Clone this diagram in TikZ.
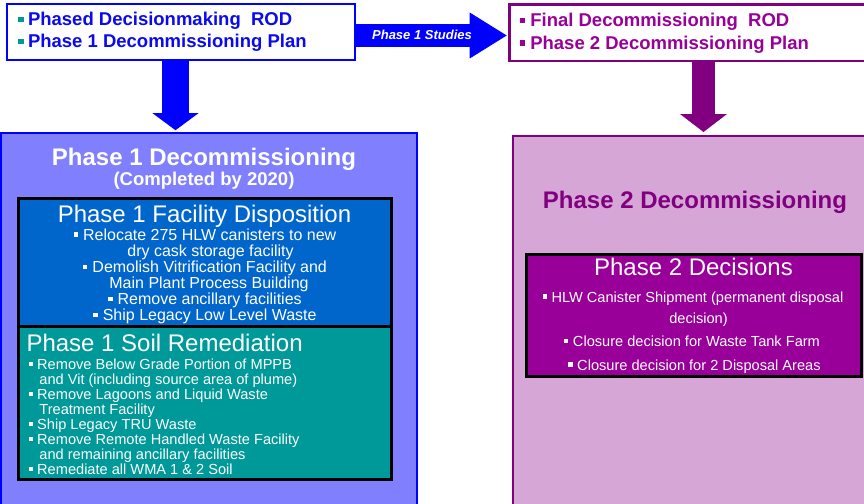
\documentclass[tikz,border=0pt]{standalone}
\usepackage{fontspec}
\setmainfont{Liberation Sans}
\usetikzlibrary{arrows.meta,fit}
\definecolor{pblue}{RGB}{0,0,255}
\definecolor{txtblue}{RGB}{10,10,240}
\definecolor{ppurple}{RGB}{128,0,128}
\definecolor{ptext}{RGB}{153,0,153}
\definecolor{tealb}{RGB}{0,153,153}
\definecolor{pafill}{RGB}{128,128,255}
\definecolor{pbfill}{RGB}{214,166,214}
\definecolor{fdfill}{RGB}{0,102,204}
\definecolor{srfill}{RGB}{0,153,153}
\definecolor{pdfill}{RGB}{153,0,153}
\newcommand{\fsz}[1]{\fontsize{#1}{#1}\selectfont}
\newcommand{\mysq}[3]{\raisebox{#2}{\rule{#1}{#1}}\hspace*{#3}}
\newcommand{\wsq}{\mysq{4.4pt}{3.2pt}{5pt}}
\newcommand{\ssq}{\mysq{4pt}{3.3pt}{3.9pt}}
\newcommand{\dsq}{\mysq{4.4pt}{3.5pt}{4.5pt}}
\begin{document}
\begin{tikzpicture}[x=1pt,y=-1pt,
  frame/.style={inner sep=0pt, outer sep=0pt, draw},
  lbl/.style={inner sep=0pt, outer sep=0pt},
  bigtitle/.style={lbl, font=\bfseries\fsz{24}},
  subtitle/.style={lbl, font=\fsz{24}, text=white},
  fdline/.style={lbl, anchor=base, font=\fsz{16}, text=white},
  srline/.style={lbl, anchor=base west, font=\fsz{14.6}, text=white},
  pdline/.style={lbl, anchor=base, font=\fsz{14.6}, text=white},
  topline/.style={lbl, anchor=base west, font=\bfseries\fsz{18.5}},
  blockarrow/.style={line cap=butt}
]
\useasboundingbox (0,0) rectangle (864,503);
\fill[white] (0,0) rectangle (864,503);

% boxes
\node[frame, draw=pblue, line width=2.3pt, fill=white, fit={(7,4.3) (354.7,59.7)}] (tl) {};
\node[frame, draw=ppurple, line width=2.5pt, fill=white, fit={(509.7,4.5) (876,60.8)}] (tr) {};
\node[frame, draw=pblue, line width=2pt, fill=pafill, fit={(1,132.7) (416.7,515)}] (p1) {};
\node[frame, draw=ppurple, line width=2.3pt, fill=pbfill, fit={(513,136) (880,515)}] (p2) {};
\node[frame, draw=black, line width=3pt, fill=fdfill, fit={(18.5,198.5) (391,326)}] (fd) {};
\node[frame, draw=black, line width=3pt, fill=srfill, fit={(18.5,326) (391,479.5)}] (sr) {};
\node[frame, draw=black, line width=3pt, fill=pdfill, fit={(526.5,254.3) (861.5,376)}] (pd) {};

% arrows
\coordinate (ax1) at (175.5,0);
\coordinate (ay2) at (0,35.5);
\coordinate (ax3) at (703.5,0);
\draw[blockarrow, pblue, line width=27pt, -{Triangle[width=46pt,length=17pt,line width=0pt]}]
  (ax1 |- tl.south) -- ([yshift=2.5pt]ax1 |- p1.north);
\draw[blockarrow, pblue, line width=23pt, -{Triangle[width=46pt,length=37pt,line width=0pt]}]
  (tl.east |- ay2) -- ([xshift=-3pt]tr.west |- ay2);
\draw[blockarrow, ppurple, line width=23pt, -{Triangle[width=47pt,length=18pt,line width=0pt]}]
  (ax3 |- tr.south) -- ([yshift=4pt]ax3 |- p2.north);
\node[lbl, anchor=base, text=white, font=\bfseries\itshape\fsz{13}] (studies) at (422,40) {Phase 1 Studies};

% top texts
\node[topline, text=txtblue] (t1) at (18.3,26) {{\color{tealb}\mysq{5.7pt}{3.5pt}{4pt}}Phased Decisionmaking\ \ ROD};
\node[topline, text=txtblue] (t2) at (18.3,48) {{\color{tealb}\mysq{5.7pt}{3.5pt}{4pt}}Phase 1 Decommissioning Plan};
\node[topline, text=ptext] (r1) at (520,26.5) {\mysq{5.3pt}{3.5pt}{5pt}Final Decommissioning\ \ ROD};
\node[topline, text=ptext] (r2) at (520,49) {\mysq{5.3pt}{3.5pt}{5pt}Phase 2 Decommissioning Plan};

% phase 1
\node[bigtitle, anchor=base, text=white] (p1t) at (204,165) {Phase 1 Decommissioning};
\node[lbl, anchor=base, text=white, font=\bfseries\fsz{18.5}] (p1s) at (204,185) {(Completed by 2020)};
\node[subtitle, anchor=base] (fdt) at (204.5,222) {Phase 1 Facility Disposition};
\node[fdline] (f1) at (205,240) {\wsq Relocate 275 HLW canisters to new};
\node[fdline] (f2) at (210.5,256.1) {dry cask storage facility};
\node[fdline] (f3) at (205,272.2) {\wsq Demolish Vitrification Facility and};
\node[fdline] (f4) at (209,288.3) {Main Plant Process Building};
\node[fdline] (f5) at (205,304.4) {\wsq Remove ancillary facilities};
\node[fdline] (f6) at (205,320.5) {\wsq Ship Legacy Low Level Waste};

\node[subtitle, anchor=base west] (srt) at (26.5,351.5) {Phase 1 Soil Remediation};
\node[srline] (s1) at (29.3,369) {\ssq Remove Below Grade Portion of MPPB};
\node[srline] (s2) at (39.4,384) {and Vit (including source area of plume)};
\node[srline] (s3) at (29.3,399) {\ssq Remove Lagoons and Liquid Waste};
\node[srline] (s4) at (39.4,414) {Treatment Facility};
\node[srline] (s5) at (29.3,429) {\ssq Ship Legacy TRU Waste};
\node[srline] (s6) at (29.3,444) {\ssq Remove Remote Handled Waste Facility};
\node[srline] (s7) at (39.4,459) {and remaining ancillary facilities};
\node[srline] (s8) at (29.3,474) {\ssq Remediate all WMA 1 \& 2 Soil};

% phase 2
\node[bigtitle, anchor=base, text=ppurple] (p2t) at (695,208.5) {Phase 2 Decommissioning};
\node[subtitle, anchor=base] (pdt) at (693.5,275.5) {Phase 2 Decisions};
\node[pdline] (d1) at (693,302) {\dsq HLW Canister Shipment (permanent disposal};
\node[pdline] (d2) at (698.5,323.5) {decision)};
\node[pdline] (d3) at (692,346.7) {\dsq Closure decision for Waste Tank Farm};
\node[pdline] (d4) at (694.5,370) {\dsq Closure decision for 2 Disposal Areas};
\end{tikzpicture}
\end{document}
